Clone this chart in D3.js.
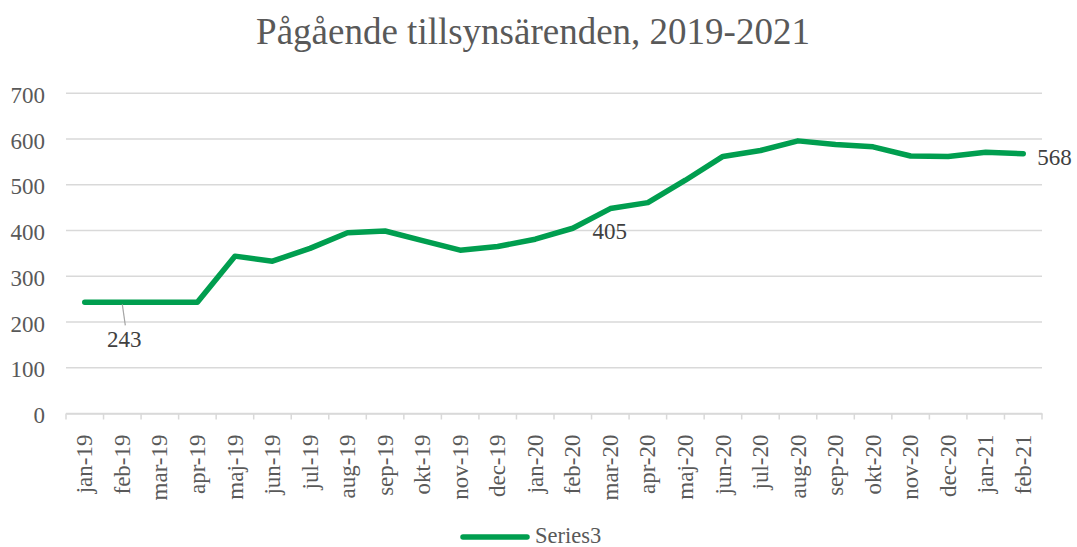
<!DOCTYPE html>
<html><head><meta charset="utf-8">
<script src="https://cdn.jsdelivr.net/npm/d3@7"></script>
<style>body{margin:0;background:#fff}svg{display:block}</style>
</head><body>
<script>
const categories = ["jan-19","feb-19","mar-19","apr-19","maj-19","jun-19","jul-19","aug-19","sep-19","okt-19","nov-19","dec-19","jan-20","feb-20","mar-20","apr-20","maj-20","jun-20","jul-20","aug-20","sep-20","okt-20","nov-20","dec-20","jan-21","feb-21"];
const series3 = [243,243,243,243,344,333,361,395,399,378,357,365,381,405,448,461,510,562,575,596,588,583,563,562,571,568];
const yTicks = [0,100,200,300,400,500,600,700];
const labelled = [{i:1,v:243},{i:13,v:405},{i:25,v:568}];
const title = "Pågående tillsynsärenden, 2019-2021";
const seriesName = "Series3";

const W=1077,H=547;
const m={l:66,r:35,t:93.3,b:133.5};
const FONT="'Liberation Serif', 'Times New Roman', serif";
const svg=d3.select("body").append("svg").attr("width",W).attr("height",H);
const x=d3.scaleBand().domain(categories).range([m.l,W-m.r]);
const y=d3.scaleLinear().domain([0,700]).range([H-m.b,m.t]);
const grey="#595959", green="#009E4F";
const T=sel=>sel.style("font-family",FONT);

svg.append("text").attr("x",533).attr("y",44).attr("text-anchor","middle")
  .attr("font-size",37).attr("fill",grey).call(T).text(title);

// gridlines
svg.append("g").selectAll("line").data(yTicks).join("line")
  .attr("x1",m.l).attr("x2",W-m.r).attr("y1",d=>y(d)).attr("y2",d=>y(d))
  .attr("stroke","#d9d9d9").attr("stroke-width",1.5);

// y axis
const ya=svg.append("g").attr("transform",`translate(${m.l},0)`).call(d3.axisLeft(y).tickValues(yTicks).tickSize(0));
ya.select(".domain").remove();
ya.selectAll("text").attr("font-size",23).attr("fill",grey).attr("x",-21).attr("dy",null).attr("y",9).call(T);

// x axis
const xa=svg.append("g").attr("transform",`translate(0,${y(0)})`).call(d3.axisBottom(x).tickSize(0));
xa.select(".domain").attr("stroke","#d9d9d9").attr("stroke-width",1.5);
xa.selectAll(".tick line").remove();
xa.selectAll("text").attr("font-size",23).attr("fill",grey).call(T)
  .attr("transform","rotate(-90)").attr("text-anchor","end").attr("dy","0.33em").attr("x",-21).attr("y",0);
const bounds=categories.map(c=>x(c)).concat([W-m.r]);
svg.append("g").selectAll("line").data(bounds).join("line")
  .attr("x1",d=>d).attr("x2",d=>d).attr("y1",y(0)).attr("y2",y(0)+6)
  .attr("stroke","#d9d9d9").attr("stroke-width",1.5);

// line
const cx=c=>x(c)+x.bandwidth()/2;
svg.append("path").datum(series3)
  .attr("d",d3.line().x((d,i)=>cx(categories[i])).y(d=>y(d)))
  .attr("fill","none").attr("stroke",green).attr("stroke-width",5.5).attr("stroke-linecap","round").attr("stroke-linejoin","round");

// data labels
const lab=svg.append("g").attr("font-size",23).attr("fill","#404040");
{const px=cx(categories[labelled[0].i]), py=y(labelled[0].v);
 svg.append("line").attr("x1",px).attr("y1",py+2).attr("x2",px+3).attr("y2",py+23).attr("stroke","#a6a6a6").attr("stroke-width",1.2);
 lab.append("text").attr("x",px+2).attr("y",py+45).attr("text-anchor","middle").call(T).text(labelled[0].v);}
{const px=cx(categories[labelled[1].i]), py=y(labelled[1].v);
 lab.append("text").attr("x",px+37).attr("y",py+11).attr("text-anchor","middle").call(T).text(labelled[1].v);}
{const px=cx(categories[labelled[2].i]), py=y(labelled[2].v);
 lab.append("text").attr("x",px+14).attr("y",py+11).attr("text-anchor","start").call(T).text(labelled[2].v);}

// legend
svg.append("line").attr("x1",463).attr("x2",527).attr("y1",537).attr("y2",537)
  .attr("stroke",green).attr("stroke-width",5.5).attr("stroke-linecap","round");
svg.append("text").attr("x",535).attr("y",543).attr("font-size",22.5).attr("fill",grey).call(T).text(seriesName);
</script>
</body></html>
